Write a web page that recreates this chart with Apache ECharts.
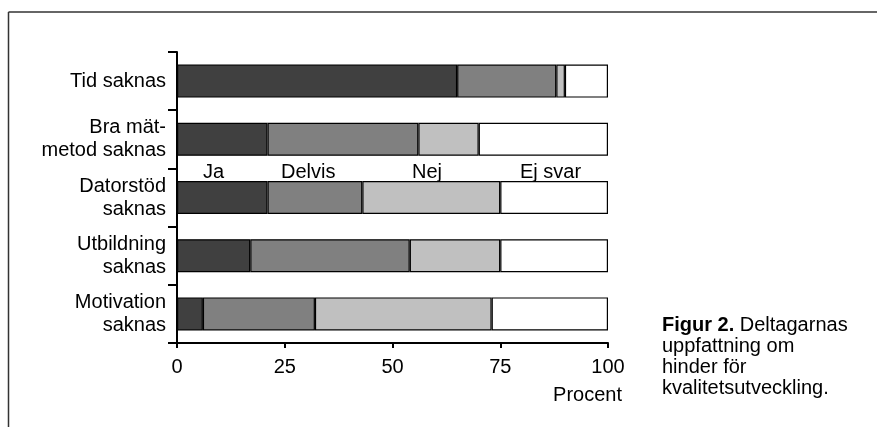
<!DOCTYPE html>
<html>
<head>
<meta charset="utf-8">
<script src="https://cdn.jsdelivr.net/npm/echarts@6/dist/echarts.min.js"></script>
<style>
html,body{margin:0;padding:0;background:#fff;}
#chart{width:877px;height:427px;}
</style>
</head>
<body>
<div id="chart"></div>
<script>
const categories = ['Tid saknas', 'Bra mät-\nmetod saknas', 'Datorstöd\nsaknas', 'Utbildning\nsaknas', 'Motivation\nsaknas'];
const seriesNames = ['Ja', 'Delvis', 'Nej', 'Ej svar'];
const ja = [65, 21, 21, 17, 6];
const delvis = [23, 35, 22, 37, 26];
const nej = [2, 14, 32, 21, 41];
const ejSvar = [10, 30, 25, 25, 27];
const xTicks = [0, 25, 50, 75, 100];
const colors = ['#404040', '#808080', '#c0c0c0', '#ffffff'];

const font = 'Liberation Sans, Arial, sans-serif';
const chart = echarts.init(document.getElementById('chart'));
const allData = [ja, delvis, nej, ejSvar];

chart.setOption({
  animation: false,
  textStyle: { fontFamily: font },
  grid: { left: 177, right: 269, top: 52, bottom: 84 },
  xAxis: {
    type: 'value', min: xTicks[0], max: xTicks[xTicks.length - 1], interval: 25,
    splitLine: { show: false },
    axisLine: { show: true, lineStyle: { color: '#000', width: 2 } },
    axisTick: { show: true, length: 5, lineStyle: { color: '#000', width: 2 } },
    axisLabel: { color: '#000', fontSize: 20, fontFamily: font, margin: 14 }
  },
  yAxis: {
    type: 'category', data: categories, inverse: true,
    axisLine: { show: true, lineStyle: { color: '#000', width: 2 } },
    axisTick: { show: true, length: 9, alignWithLabel: false, lineStyle: { color: '#000', width: 2 } },
    axisLabel: { color: '#000', fontSize: 20, fontFamily: font, margin: 11, lineHeight: 23, align: 'right' }
  },
  series: seriesNames.map((name, i) => ({
    name: name, type: 'bar', stack: 'total', barWidth: 33,
    data: allData[i],
    itemStyle: { color: colors[i], borderColor: '#000', borderWidth: 1.2 }
  })),
  graphic: [
    { type: 'line', shape: { x1: 8.5, y1: 12, x2: 877, y2: 12 }, style: { stroke: '#333', lineWidth: 1.5 } },
    { type: 'line', shape: { x1: 8.5, y1: 12, x2: 8.5, y2: 427 }, style: { stroke: '#333', lineWidth: 1.5 } },
    { type: 'text', left: 203, top: 162, style: { text: seriesNames[0], font: '20px ' + font, fill: '#000' } },
    { type: 'text', left: 281, top: 162, style: { text: seriesNames[1], font: '20px ' + font, fill: '#000' } },
    { type: 'text', left: 412, top: 162, style: { text: seriesNames[2], font: '20px ' + font, fill: '#000' } },
    { type: 'text', left: 520, top: 162, style: { text: seriesNames[3], font: '20px ' + font, fill: '#000' } },
    { type: 'text', right: 877 - 622, top: 385, style: { text: 'Procent', font: '20px ' + font, fill: '#000' } },
    { type: 'text', left: 662, top: 315, style: {
        text: '{b|Figur 2.} Deltagarnas\nuppfattning om\nhinder för\nkvalitetsutveckling.',
        font: '20px ' + font, fill: '#000', lineHeight: 21,
        rich: { b: { fontWeight: 'bold', fontSize: 20, fontFamily: font, lineHeight: 21 } }
    } }
  ]
});
</script>
</body>
</html>
